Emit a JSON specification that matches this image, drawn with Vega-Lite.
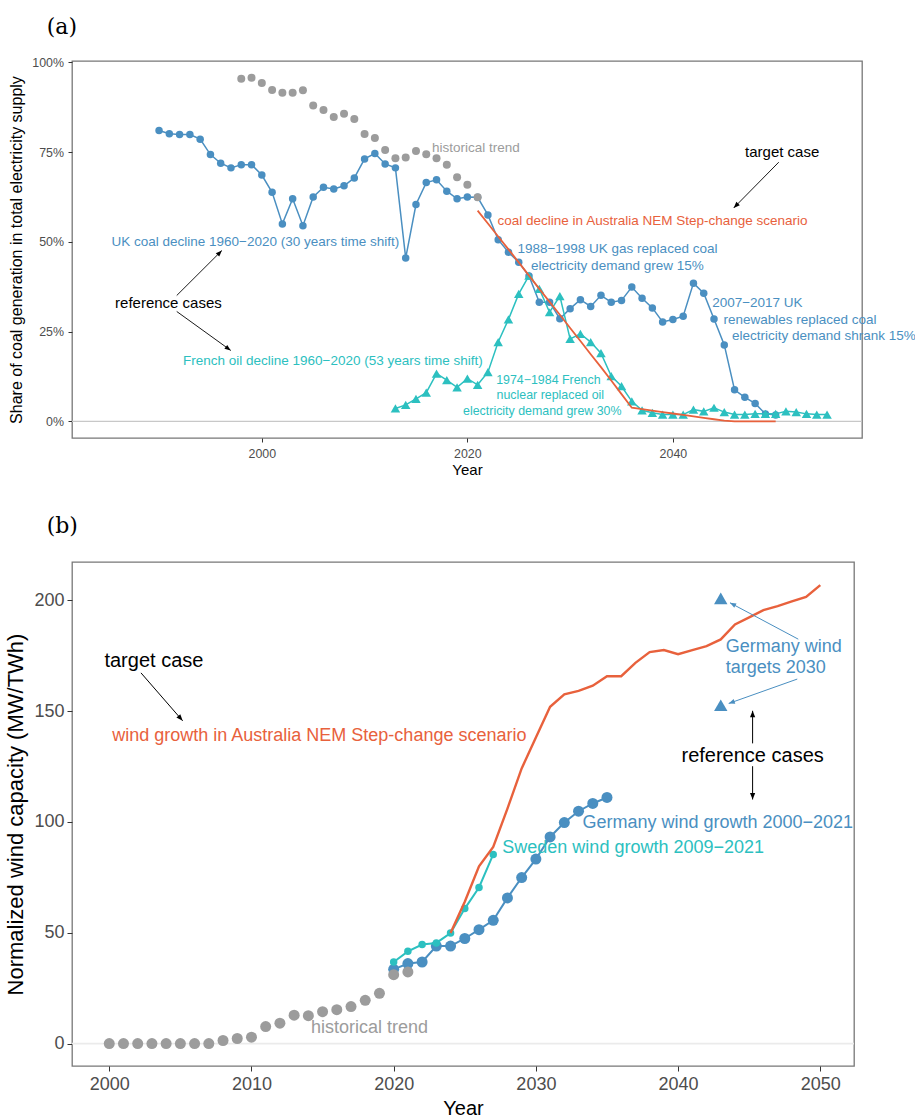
{
  "$schema": "https://vega.github.io/schema/vega-lite/v6.json",
  "padding": {"left": 4, "top": 15, "right": 5, "bottom": 0},
  "spacing": 34,
  "config": {
    "font": "Liberation Sans",
    "view": {"stroke": "#777777", "strokeWidth": 1.3},
    "axis": {"labelFont": "Liberation Sans", "titleFont": "Liberation Sans", "titleFontWeight": "normal", "titleColor": "#000000", "labelColor": "#4d4d4d", "tickColor": "#333333", "grid": false, "domain": false}
  },
  "datasets": {
    "hist_a": [
      {"year": 1998, "value": 0.954}, {"year": 1999, "value": 0.957}, {"year": 2000, "value": 0.942}, {"year": 2001, "value": 0.923},
      {"year": 2002, "value": 0.915}, {"year": 2003, "value": 0.915}, {"year": 2004, "value": 0.922}, {"year": 2005, "value": 0.880},
      {"year": 2006, "value": 0.867}, {"year": 2007, "value": 0.848}, {"year": 2008, "value": 0.857}, {"year": 2009, "value": 0.842},
      {"year": 2010, "value": 0.800}, {"year": 2011, "value": 0.789}, {"year": 2012, "value": 0.756}, {"year": 2013, "value": 0.733},
      {"year": 2014, "value": 0.735}, {"year": 2015, "value": 0.753}, {"year": 2016, "value": 0.744}, {"year": 2017, "value": 0.733},
      {"year": 2018, "value": 0.715}, {"year": 2019, "value": 0.680}, {"year": 2020, "value": 0.659}, {"year": 2021, "value": 0.624}
    ],
    "uk_a": [
      {"year": 1990, "value": 0.810}, {"year": 1991, "value": 0.801}, {"year": 1992, "value": 0.799}, {"year": 1993, "value": 0.799},
      {"year": 1994, "value": 0.786}, {"year": 1995, "value": 0.743}, {"year": 1996, "value": 0.719}, {"year": 1997, "value": 0.706},
      {"year": 1998, "value": 0.715}, {"year": 1999, "value": 0.715}, {"year": 2000, "value": 0.686}, {"year": 2001, "value": 0.638},
      {"year": 2002, "value": 0.550}, {"year": 2003, "value": 0.620}, {"year": 2004, "value": 0.545}, {"year": 2005, "value": 0.625},
      {"year": 2006, "value": 0.652}, {"year": 2007, "value": 0.647}, {"year": 2008, "value": 0.656}, {"year": 2009, "value": 0.678},
      {"year": 2010, "value": 0.731}, {"year": 2011, "value": 0.746}, {"year": 2012, "value": 0.717}, {"year": 2013, "value": 0.706},
      {"year": 2014, "value": 0.455}, {"year": 2015, "value": 0.604}, {"year": 2016, "value": 0.665}, {"year": 2017, "value": 0.673},
      {"year": 2018, "value": 0.641}, {"year": 2019, "value": 0.620}, {"year": 2020, "value": 0.625}, {"year": 2021, "value": 0.624},
      {"year": 2022, "value": 0.575}, {"year": 2023, "value": 0.506}, {"year": 2024, "value": 0.471}, {"year": 2025, "value": 0.443},
      {"year": 2026, "value": 0.405}, {"year": 2027, "value": 0.332}, {"year": 2028, "value": 0.332}, {"year": 2029, "value": 0.286},
      {"year": 2030, "value": 0.314}, {"year": 2031, "value": 0.339}, {"year": 2032, "value": 0.320}, {"year": 2033, "value": 0.351},
      {"year": 2034, "value": 0.332}, {"year": 2035, "value": 0.337}, {"year": 2036, "value": 0.374}, {"year": 2037, "value": 0.343},
      {"year": 2038, "value": 0.316}, {"year": 2039, "value": 0.277}, {"year": 2040, "value": 0.284}, {"year": 2041, "value": 0.293},
      {"year": 2042, "value": 0.385}, {"year": 2043, "value": 0.357}, {"year": 2044, "value": 0.285}, {"year": 2045, "value": 0.213},
      {"year": 2046, "value": 0.088}, {"year": 2047, "value": 0.067}, {"year": 2048, "value": 0.050}, {"year": 2049, "value": 0.021},
      {"year": 2050, "value": 0.018}
    ],
    "fr_a": [
      {"year": 2013, "value": 0.036}, {"year": 2014, "value": 0.046}, {"year": 2015, "value": 0.063}, {"year": 2016, "value": 0.080},
      {"year": 2017, "value": 0.133}, {"year": 2018, "value": 0.115}, {"year": 2019, "value": 0.095}, {"year": 2020, "value": 0.119},
      {"year": 2021, "value": 0.102}, {"year": 2022, "value": 0.137}, {"year": 2023, "value": 0.221}, {"year": 2024, "value": 0.284},
      {"year": 2025, "value": 0.355}, {"year": 2026, "value": 0.406}, {"year": 2027, "value": 0.369}, {"year": 2028, "value": 0.304},
      {"year": 2029, "value": 0.349}, {"year": 2030, "value": 0.230}, {"year": 2031, "value": 0.244}, {"year": 2032, "value": 0.221},
      {"year": 2033, "value": 0.190}, {"year": 2034, "value": 0.126}, {"year": 2035, "value": 0.098}, {"year": 2036, "value": 0.056},
      {"year": 2037, "value": 0.031}, {"year": 2038, "value": 0.024}, {"year": 2039, "value": 0.019}, {"year": 2040, "value": 0.019},
      {"year": 2041, "value": 0.019}, {"year": 2042, "value": 0.033}, {"year": 2043, "value": 0.028}, {"year": 2044, "value": 0.038},
      {"year": 2045, "value": 0.026}, {"year": 2046, "value": 0.019}, {"year": 2047, "value": 0.019}, {"year": 2048, "value": 0.021},
      {"year": 2049, "value": 0.021}, {"year": 2050, "value": 0.021}, {"year": 2051, "value": 0.028}, {"year": 2052, "value": 0.026},
      {"year": 2053, "value": 0.021}, {"year": 2054, "value": 0.019}, {"year": 2055, "value": 0.019}
    ],
    "nem_a": [
      {"year": 2021, "value": 0.587}, {"year": 2022, "value": 0.551}, {"year": 2023, "value": 0.515}, {"year": 2024, "value": 0.479},
      {"year": 2025, "value": 0.443}, {"year": 2026, "value": 0.406}, {"year": 2027, "value": 0.369}, {"year": 2028, "value": 0.333},
      {"year": 2029, "value": 0.297}, {"year": 2030, "value": 0.260}, {"year": 2031, "value": 0.224}, {"year": 2032, "value": 0.187},
      {"year": 2033, "value": 0.151}, {"year": 2034, "value": 0.114}, {"year": 2035, "value": 0.076}, {"year": 2036, "value": 0.038},
      {"year": 2037, "value": 0.034}, {"year": 2038, "value": 0.030}, {"year": 2039, "value": 0.026}, {"year": 2040, "value": 0.022},
      {"year": 2041, "value": 0.018}, {"year": 2042, "value": 0.014}, {"year": 2043, "value": 0.010}, {"year": 2044, "value": 0.006},
      {"year": 2045, "value": 0.002}, {"year": 2046, "value": 0.0}, {"year": 2047, "value": 0.0}, {"year": 2048, "value": 0.0},
      {"year": 2049, "value": 0.0}, {"year": 2050, "value": 0.0}
    ],
    "zero": [{"value": 0}],
    "arrows_a": [
      {"year": 2050.30, "value": 0.7218, "year2": 2045.92, "value2": 0.5946, "angle": 224.6},
      {"year": 1991.72, "value": 0.3506, "year2": 1996.11, "value2": 0.4758, "angle": 45},
      {"year": 1991.72, "value": 0.3061, "year2": 1996.98, "value2": 0.1976, "angle": 125.8}
    ],
    "txt_a_black": [
      {"year": 2050.63, "value": 0.7496, "text": "target case"},
      {"year": 1990.91, "value": 0.3294, "text": "reference cases"}
    ],
    "txt_a_gray": [{"year": 2016.55, "value": 0.7615, "text": "historical trend"}],
    "txt_a_red": [{"year": 2022.94, "value": 0.5593, "text": "coal decline in Australia NEM Step-change scenario"}],
    "txt_a_blue_c": [
      {"year": 1999.37, "value": 0.4992, "text": "UK coal decline 1960−2020 (30 years time shift)"},
      {"year": 2034.6, "value": 0.4805, "text": "1988−1998 UK gas replaced coal"},
      {"year": 2034.6, "value": 0.4341, "text": "electricity demand grew 15%"}
    ],
    "txt_a_blue_l": [
      {"year": 2043.82, "value": 0.3294, "text": "2007−2017 UK"},
      {"year": 2044.92, "value": 0.2830, "text": "renewables replaced coal"},
      {"year": 2045.74, "value": 0.2365, "text": "electricity demand shrank 15%"}
    ],
    "txt_a_cyan_big": [{"year": 2006.91, "value": 0.1689, "text": "French oil decline 1960−2020 (53 years time shift)"}],
    "txt_a_cyan_c": [
      {"year": 2027.88, "value": 0.1141, "text": "1974−1984 French"},
      {"year": 2028.07, "value": 0.0723, "text": "nuclear replaced oil"},
      {"year": 2027.29, "value": 0.0289, "text": "electricity demand grew 30%"}
    ],
    "hist_b": [
      {"year": 2000, "value": 0}, {"year": 2001, "value": 0}, {"year": 2002, "value": 0}, {"year": 2003, "value": 0},
      {"year": 2004, "value": 0}, {"year": 2005, "value": 0}, {"year": 2006, "value": 0}, {"year": 2007, "value": 0},
      {"year": 2008, "value": 1.4}, {"year": 2009, "value": 2.3}, {"year": 2010, "value": 2.9}, {"year": 2011, "value": 7.7},
      {"year": 2012, "value": 9.2}, {"year": 2013, "value": 12.8}, {"year": 2014, "value": 12.6}, {"year": 2015, "value": 14.4},
      {"year": 2016, "value": 15.3}, {"year": 2017, "value": 16.7}, {"year": 2018, "value": 19.5}, {"year": 2019, "value": 22.7},
      {"year": 2020, "value": 31.1}, {"year": 2021, "value": 32.3}
    ],
    "de_b": [
      {"year": 2020, "value": 33.5}, {"year": 2021, "value": 36.1}, {"year": 2022, "value": 36.8}, {"year": 2023, "value": 44.0},
      {"year": 2024, "value": 44.0}, {"year": 2025, "value": 47.4}, {"year": 2026, "value": 51.4}, {"year": 2027, "value": 55.6},
      {"year": 2028, "value": 65.7}, {"year": 2029, "value": 74.9}, {"year": 2030, "value": 83.2}, {"year": 2031, "value": 93.2},
      {"year": 2032, "value": 99.7}, {"year": 2033, "value": 104.8}, {"year": 2034, "value": 108.3}, {"year": 2035, "value": 111.0}
    ],
    "se_b": [
      {"year": 2020, "value": 36.8}, {"year": 2021, "value": 41.6}, {"year": 2022, "value": 44.7}, {"year": 2023, "value": 45.4},
      {"year": 2024, "value": 49.9}, {"year": 2025, "value": 60.9}, {"year": 2026, "value": 70.4}, {"year": 2027, "value": 85.3}
    ],
    "nem_b": [
      {"year": 2024, "value": 49.9}, {"year": 2025, "value": 64.0}, {"year": 2026, "value": 80.0}, {"year": 2027, "value": 88.7},
      {"year": 2028, "value": 106.0}, {"year": 2029, "value": 124.1}, {"year": 2030, "value": 138.0}, {"year": 2031, "value": 151.9},
      {"year": 2032, "value": 157.5}, {"year": 2033, "value": 159.1}, {"year": 2034, "value": 161.4}, {"year": 2035, "value": 165.7},
      {"year": 2036, "value": 165.7}, {"year": 2037, "value": 171.7}, {"year": 2038, "value": 176.6}, {"year": 2039, "value": 177.5},
      {"year": 2040, "value": 175.6}, {"year": 2041, "value": 177.5}, {"year": 2042, "value": 179.3}, {"year": 2043, "value": 182.3},
      {"year": 2044, "value": 189.0}, {"year": 2045, "value": 192.2}, {"year": 2046, "value": 195.5}, {"year": 2047, "value": 197.3},
      {"year": 2048, "value": 199.4}, {"year": 2049, "value": 201.5}, {"year": 2050, "value": 206.8}
    ],
    "targets_b": [{"year": 2043, "value": 200.8}, {"year": 2043, "value": 152.6}],
    "arrows_b_black": [
      {"year": 2002.23, "value": 167.2, "year2": 2005.16, "value2": 145.6, "angle": 139},
      {"year": 2045.24, "value": 135.4, "year2": 2045.24, "value2": 150.1, "angle": 0},
      {"year": 2045.24, "value": 125.1, "year2": 2045.24, "value2": 110.1, "angle": 180}
    ],
    "arrows_b_blue": [
      {"year": 2048.45, "value": 182.4, "year2": 2043.65, "value2": 198.8, "angle": 298},
      {"year": 2048.38, "value": 164.4, "year2": 2043.56, "value2": 153.4, "angle": 250.5}
    ],
    "txt_b_black": [
      {"year": 2003.14, "value": 172.6, "text": "target case"},
      {"year": 2045.24, "value": 129.8, "text": "reference cases"}
    ],
    "txt_b_red": [{"year": 2000.21, "value": 138.7, "text": "wind growth in Australia NEM Step-change scenario"}],
    "txt_b_blue": [
      {"year": 2043.35, "value": 178.7, "text": "Germany wind"},
      {"year": 2043.35, "value": 169.5, "text": "targets 2030"},
      {"year": 2033.27, "value": 99.7, "text": "Germany wind growth 2000−2021"}
    ],
    "txt_b_cyan": [{"year": 2027.64, "value": 88.3, "text": "Sweden wind growth 2009−2021"}],
    "txt_b_gray": [{"year": 2014.18, "value": 7.0, "text": "historical trend"}]
  },
  "vconcat": [
    {
      "title": {"text": "(a)", "anchor": "start", "frame": "group", "font": "DejaVu Serif", "fontSize": 22, "fontWeight": "normal", "color": "#000000", "dx": -25.3, "offset": 0.5, "baseline": "alphabetic"},
      "width": 790,
      "height": 377,
      "layer": [
        {"data": {"name": "zero"}, "mark": {"type": "rule", "color": "#c8c8c8", "strokeWidth": 1.2},
         "encoding": {"y": {"field": "value", "type": "quantitative", "scale": {"domain": [-0.0462, 1.0036], "nice": false, "zero": false},
           "axis": {"title": "Share of coal generation in total electricity supply", "values": [0, 0.25, 0.5, 0.75, 1], "format": ".0%", "tickSize": 4, "labelFontSize": 12.4, "labelPadding": 4.5, "titleFontSize": 16, "titlePadding": 7}}}},
        {"data": {"name": "uk_a"}, "mark": {"type": "line", "color": "#4a8fc1", "strokeWidth": 1.5},
         "encoding": {"x": {"field": "year", "type": "quantitative", "scale": {"domain": [1981.53, 2058.4], "nice": false, "zero": false},
           "axis": {"title": "Year", "values": [2000, 2020, 2040], "format": "d", "tickSize": 4, "labelFontSize": 12.4, "labelPadding": 5, "titleFontSize": 15, "titlePadding": 3}},
           "y": {"field": "value", "type": "quantitative"}}},
        {"data": {"name": "uk_a"}, "mark": {"type": "point", "filled": true, "opacity": 1, "size": 56, "color": "#4a8fc1"},
         "encoding": {"x": {"field": "year", "type": "quantitative"}, "y": {"field": "value", "type": "quantitative"}}},
        {"data": {"name": "fr_a"}, "mark": {"type": "line", "color": "#2cc0c0", "strokeWidth": 1.5},
         "encoding": {"x": {"field": "year", "type": "quantitative"}, "y": {"field": "value", "type": "quantitative"}}},
        {"data": {"name": "fr_a"}, "mark": {"type": "point", "filled": true, "opacity": 1, "size": 90, "shape": "triangle-up", "color": "#2cc0c0"},
         "encoding": {"x": {"field": "year", "type": "quantitative"}, "y": {"field": "value", "type": "quantitative"}}},
        {"data": {"name": "hist_a"}, "mark": {"type": "point", "filled": true, "opacity": 1, "size": 64, "color": "#9c9c9c"},
         "encoding": {"x": {"field": "year", "type": "quantitative"}, "y": {"field": "value", "type": "quantitative"}}},
        {"data": {"name": "nem_a"}, "mark": {"type": "line", "color": "#e8613c", "strokeWidth": 1.8},
         "encoding": {"x": {"field": "year", "type": "quantitative"}, "y": {"field": "value", "type": "quantitative"}}},
        {"data": {"name": "txt_a_black"}, "mark": {"type": "text", "align": "center", "baseline": "middle", "fontSize": 15, "color": "#000000"},
         "encoding": {"x": {"field": "year", "type": "quantitative"}, "y": {"field": "value", "type": "quantitative"}, "text": {"field": "text"}}},
        {"data": {"name": "txt_a_gray"}, "mark": {"type": "text", "align": "left", "baseline": "middle", "fontSize": 13.5, "color": "#9c9c9c"},
         "encoding": {"x": {"field": "year", "type": "quantitative"}, "y": {"field": "value", "type": "quantitative"}, "text": {"field": "text"}}},
        {"data": {"name": "txt_a_red"}, "mark": {"type": "text", "align": "left", "baseline": "middle", "fontSize": 13.5, "color": "#e8613c"},
         "encoding": {"x": {"field": "year", "type": "quantitative"}, "y": {"field": "value", "type": "quantitative"}, "text": {"field": "text"}}},
        {"data": {"name": "txt_a_blue_c"}, "mark": {"type": "text", "align": "center", "baseline": "middle", "fontSize": 13.5, "color": "#4a8fc1"},
         "encoding": {"x": {"field": "year", "type": "quantitative"}, "y": {"field": "value", "type": "quantitative"}, "text": {"field": "text"}}},
        {"data": {"name": "txt_a_blue_l"}, "mark": {"type": "text", "align": "left", "baseline": "middle", "fontSize": 13.5, "color": "#4a8fc1"},
         "encoding": {"x": {"field": "year", "type": "quantitative"}, "y": {"field": "value", "type": "quantitative"}, "text": {"field": "text"}}},
        {"data": {"name": "txt_a_cyan_big"}, "mark": {"type": "text", "align": "center", "baseline": "middle", "fontSize": 13.5, "color": "#2cc0c0"},
         "encoding": {"x": {"field": "year", "type": "quantitative"}, "y": {"field": "value", "type": "quantitative"}, "text": {"field": "text"}}},
        {"data": {"name": "txt_a_cyan_c"}, "mark": {"type": "text", "align": "center", "baseline": "middle", "fontSize": 12.4, "color": "#2cc0c0"},
         "encoding": {"x": {"field": "year", "type": "quantitative"}, "y": {"field": "value", "type": "quantitative"}, "text": {"field": "text"}}},
        {"data": {"name": "arrows_a"}, "mark": {"type": "rule", "color": "#000000", "strokeWidth": 0.9},
         "encoding": {"x": {"field": "year", "type": "quantitative"}, "y": {"field": "value", "type": "quantitative"},
           "x2": {"field": "year2"}, "y2": {"field": "value2"}}},
        {"data": {"name": "arrows_a"}, "mark": {"type": "point", "filled": true, "opacity": 1, "size": 150, "shape": "M0,0L0.4,1L-0.4,1Z", "color": "#000000"},
         "encoding": {"x": {"field": "year2", "type": "quantitative"}, "y": {"field": "value2", "type": "quantitative"},
           "angle": {"field": "angle", "type": "quantitative", "scale": null}}}
      ]
    },
    {
      "title": {"text": "(b)", "anchor": "start", "frame": "group", "font": "DejaVu Serif", "fontSize": 22, "fontWeight": "normal", "color": "#000000", "dx": -25.3, "offset": 7.5, "baseline": "alphabetic"},
      "width": 782,
      "height": 504,
      "layer": [
        {"data": {"name": "zero"}, "mark": {"type": "rule", "color": "#ebebeb", "strokeWidth": 1.6},
         "encoding": {"y": {"field": "value", "type": "quantitative", "scale": {"domain": [-10.1, 217.2], "nice": false, "zero": false},
           "axis": {"title": "Normalized wind capacity (MW/TWh)", "values": [0, 50, 100, 150, 200], "tickSize": 5, "labelFontSize": 18, "labelPadding": 3, "titleFontSize": 22, "titlePadding": 6}}}},
        {"data": {"name": "de_b"}, "mark": {"type": "line", "color": "#4a8fc1", "strokeWidth": 2},
         "encoding": {"x": {"field": "year", "type": "quantitative", "scale": {"domain": [1997.38, 2052.37], "nice": false, "zero": false},
           "axis": {"title": "Year", "values": [2000, 2010, 2020, 2030, 2040, 2050], "format": "d", "tickSize": 5, "labelFontSize": 18, "labelPadding": 4, "titleFontSize": 20, "titlePadding": 5}},
           "y": {"field": "value", "type": "quantitative"}}},
        {"data": {"name": "de_b"}, "mark": {"type": "point", "filled": true, "opacity": 1, "size": 121, "color": "#4a8fc1"},
         "encoding": {"x": {"field": "year", "type": "quantitative"}, "y": {"field": "value", "type": "quantitative"}}},
        {"data": {"name": "se_b"}, "mark": {"type": "line", "color": "#2cc0c0", "strokeWidth": 2},
         "encoding": {"x": {"field": "year", "type": "quantitative"}, "y": {"field": "value", "type": "quantitative"}}},
        {"data": {"name": "se_b"}, "mark": {"type": "point", "filled": true, "opacity": 1, "size": 56, "color": "#2cc0c0"},
         "encoding": {"x": {"field": "year", "type": "quantitative"}, "y": {"field": "value", "type": "quantitative"}}},
        {"data": {"name": "hist_b"}, "mark": {"type": "point", "filled": true, "opacity": 1, "size": 121, "color": "#9c9c9c"},
         "encoding": {"x": {"field": "year", "type": "quantitative"}, "y": {"field": "value", "type": "quantitative"}}},
        {"data": {"name": "nem_b"}, "mark": {"type": "line", "color": "#e8613c", "strokeWidth": 2.4},
         "encoding": {"x": {"field": "year", "type": "quantitative"}, "y": {"field": "value", "type": "quantitative"}}},
        {"data": {"name": "targets_b"}, "mark": {"type": "point", "filled": true, "opacity": 1, "size": 180, "shape": "triangle-up", "color": "#4a8fc1"},
         "encoding": {"x": {"field": "year", "type": "quantitative"}, "y": {"field": "value", "type": "quantitative"}}},
        {"data": {"name": "txt_b_black"}, "mark": {"type": "text", "align": "center", "baseline": "middle", "fontSize": 20, "color": "#000000"},
         "encoding": {"x": {"field": "year", "type": "quantitative"}, "y": {"field": "value", "type": "quantitative"}, "text": {"field": "text"}}},
        {"data": {"name": "txt_b_red"}, "mark": {"type": "text", "align": "left", "baseline": "middle", "fontSize": 18, "color": "#e8613c"},
         "encoding": {"x": {"field": "year", "type": "quantitative"}, "y": {"field": "value", "type": "quantitative"}, "text": {"field": "text"}}},
        {"data": {"name": "txt_b_blue"}, "mark": {"type": "text", "align": "left", "baseline": "middle", "fontSize": 18, "color": "#4a8fc1"},
         "encoding": {"x": {"field": "year", "type": "quantitative"}, "y": {"field": "value", "type": "quantitative"}, "text": {"field": "text"}}},
        {"data": {"name": "txt_b_cyan"}, "mark": {"type": "text", "align": "left", "baseline": "middle", "fontSize": 18, "color": "#2cc0c0"},
         "encoding": {"x": {"field": "year", "type": "quantitative"}, "y": {"field": "value", "type": "quantitative"}, "text": {"field": "text"}}},
        {"data": {"name": "txt_b_gray"}, "mark": {"type": "text", "align": "left", "baseline": "middle", "fontSize": 18, "color": "#9c9c9c"},
         "encoding": {"x": {"field": "year", "type": "quantitative"}, "y": {"field": "value", "type": "quantitative"}, "text": {"field": "text"}}},
        {"data": {"name": "arrows_b_black"}, "mark": {"type": "rule", "color": "#000000", "strokeWidth": 1},
         "encoding": {"x": {"field": "year", "type": "quantitative"}, "y": {"field": "value", "type": "quantitative"},
           "x2": {"field": "year2"}, "y2": {"field": "value2"}}},
        {"data": {"name": "arrows_b_black"}, "mark": {"type": "point", "filled": true, "opacity": 1, "size": 170, "shape": "M0,0L0.4,1L-0.4,1Z", "color": "#000000"},
         "encoding": {"x": {"field": "year2", "type": "quantitative"}, "y": {"field": "value2", "type": "quantitative"},
           "angle": {"field": "angle", "type": "quantitative", "scale": null}}},
        {"data": {"name": "arrows_b_blue"}, "mark": {"type": "rule", "color": "#4a8fc1", "strokeWidth": 1},
         "encoding": {"x": {"field": "year", "type": "quantitative"}, "y": {"field": "value", "type": "quantitative"},
           "x2": {"field": "year2"}, "y2": {"field": "value2"}}},
        {"data": {"name": "arrows_b_blue"}, "mark": {"type": "point", "filled": true, "opacity": 1, "size": 150, "shape": "M0,0L0.4,1L-0.4,1Z", "color": "#4a8fc1"},
         "encoding": {"x": {"field": "year2", "type": "quantitative"}, "y": {"field": "value2", "type": "quantitative"},
           "angle": {"field": "angle", "type": "quantitative", "scale": null}}}
      ]
    }
  ]
}
